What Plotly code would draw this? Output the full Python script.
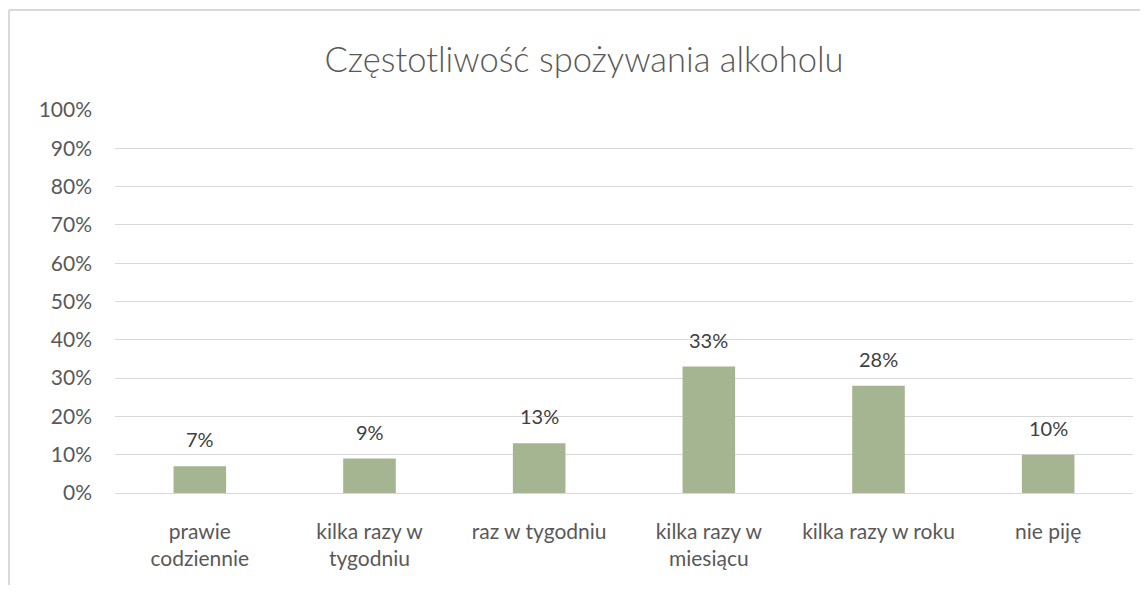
import plotly.graph_objects as go

categories = ["prawie<br>codziennie", "kilka razy w<br>tygodniu", "raz w tygodniu",
              "kilka razy w<br>miesiącu", "kilka razy w roku", "nie piję"]
values = [0.07, 0.09, 0.13, 0.33, 0.28, 0.10]
labels = ["7%", "9%", "13%", "33%", "28%", "10%"]
y_ticks = [0, 0.1, 0.2, 0.3, 0.4, 0.5, 0.6, 0.7, 0.8, 0.9, 1.0]
y_tick_labels = ["0%", "10%", "20%", "30%", "40%", "50%", "60%", "70%", "80%", "90%", "100%"]

font_family = "Lato, Open Sans, DejaVu Sans, sans-serif"

W, H = 1132, 577
L, R, T, B = 107, 7, 102, 92
pw, ph = W - L - R, H - T - B

fig = go.Figure(go.Bar(
    x=categories, y=values,
    marker=dict(color="#A5B592", line=dict(width=0)),
    width=0.31,
    hoverinfo="x+y",
))

for c, v, t in zip(categories, values, labels):
    fig.add_annotation(x=c, y=v, text=t, showarrow=False, yanchor="bottom",
                       yshift=13, font=dict(size=20, color="#404040", family=font_family))

fig.update_layout(
    width=W, height=H, autosize=False,
    margin=dict(l=L, r=R, t=T, b=B),
    paper_bgcolor="white", plot_bgcolor="white",
    title=dict(text="Częstotliwość spożywania alkoholu", xref="paper",
               x=(576 - L) / pw, xanchor="center",
               y=1 - 52 / H, yanchor="middle",
               font=dict(size=34.5, color="#595959", family=font_family, weight=300)),
    showlegend=False,
    font=dict(family=font_family, color="#595959"),
)
fig.update_yaxes(range=[0, 1.0], tickvals=y_ticks, ticktext=y_tick_labels,
                 showgrid=True, gridcolor="#D9D9D9", gridwidth=1,
                 zeroline=True, zerolinecolor="#D9D9D9", zerolinewidth=1,
                 ticks="", ticklabelstandoff=22,
                 tickfont=dict(size=21, color="#595959", family=font_family))
fig.update_xaxes(showgrid=False, showline=False, ticks="", ticklabelstandoff=24,
                 tickfont=dict(size=21, color="#595959", family=font_family))

# outer chart border (top and left visible)
bx = -(L - 1) / pw
by = 1 + (T - 2) / ph
fig.add_shape(type="line", xref="paper", yref="paper",
              x0=bx, x1=1.1, y0=by, y1=by,
              line=dict(color="#D9D9D9", width=2))
fig.add_shape(type="line", xref="paper", yref="paper",
              x0=bx, x1=bx, y0=by, y1=-0.3,
              line=dict(color="#D9D9D9", width=2))

fig.write_html("out.html")
